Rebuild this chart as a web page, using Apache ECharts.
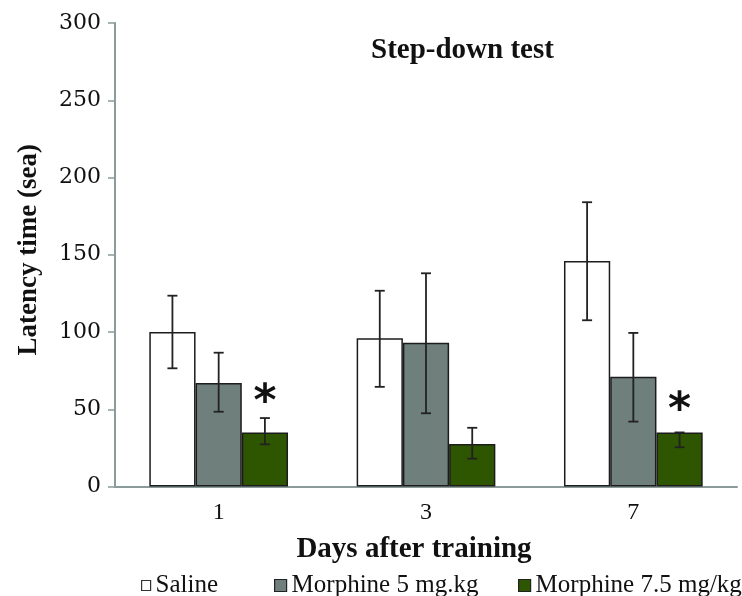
<!DOCTYPE html>
<html>
<head>
<meta charset="utf-8">
<script src="https://cdn.jsdelivr.net/npm/echarts@6/dist/echarts.min.js"></script>
<style>
  html, body { margin: 0; padding: 0; background: #fff; }
  #chart { width: 742px; height: 596px; }
</style>
</head>
<body>
<div id="chart"></div>
<script>
// ---- data ----
var categories = ['1', '3', '7'];
var seriesNames = ['Saline', 'Morphine 5 mg.kg', 'Morphine 7.5 mg/kg'];
var yTicks = [0, 50, 100, 150, 200, 250, 300];

var saline = [100, 96, 146];
var salineLow = [76.5, 64.5, 107.6];
var salineHigh = [123.5, 126.7, 184];

var morph5 = [67, 93, 71];
var morph5Low = [48.4, 47.4, 42];
var morph5High = [86.6, 138, 99.4];

var morph75 = [35, 27.5, 35];
var morph75Low = [27.3, 18, 25.4];
var morph75High = [44.3, 38, 35];

var significance = [58, null, 53]; // asterisk heights

// ---- styling ----
var colors = ['#ffffff', '#6f7f7c', '#2e5600'];
var BAR_RATIO = 0.223;
var edge = '#1c1c1c';

function errorSeries(idx, low, high) {
  return {
    type: 'custom',
    name: seriesNames[idx] + ' error',
    z: 10,
    silent: true,
    renderItem: function (params, api) {
      var cat = api.value(0);
      var lo = api.value(1), hi = api.value(2);
      var band = api.size([1, 0])[0];
      var bw = band * BAR_RATIO;
      var base = api.coord([cat, 0]);
      var x = base[0] + (idx - 1) * bw;
      var yHi = api.coord([cat, hi])[1];
      var yLo = api.coord([cat, lo])[1];
      var cap = 5;
      var st = { stroke: '#222', lineWidth: 1.8 };
      return {
        type: 'group',
        children: [
          { type: 'line', shape: { x1: x, y1: yHi, x2: x, y2: yLo }, style: st },
          { type: 'line', shape: { x1: x - cap, y1: yHi, x2: x + cap, y2: yHi }, style: st },
          { type: 'line', shape: { x1: x - cap, y1: yLo, x2: x + cap, y2: yLo }, style: st }
        ]
      };
    },
    encode: { x: 0, y: [1, 2] },
    data: categories.map(function (c, i) { return [i, low[i], high[i]]; })
  };
}

var sigData = [];
significance.forEach(function (v, i) { if (v != null) sigData.push([i, v]); });

var chart = echarts.init(document.getElementById('chart'), null, { renderer: 'canvas' });

var legendBase = {
  orient: 'horizontal',
  top: 573,
  padding: 0,
  itemHeight: 12,
  itemWidth: 12,
  icon: 'rect',
  textStyle: { fontFamily: 'Liberation Serif', fontSize: 25, color: '#111' },
  selectedMode: false
};

var SIG_FONT = 44;

chart.setOption({
  animation: false,
  backgroundColor: '#ffffff',
  title: {
    text: 'Step-down test',
    left: 371,
    top: 36,
    padding: 0,
    textStyle: { fontFamily: 'Liberation Serif', fontWeight: 'bold', fontSize: 29, color: '#111' }
  },
  legend: [
    Object.assign({}, legendBase, { left: 141, itemWidth: 9, itemHeight: 10, data: [{ name: seriesNames[0], itemStyle: { color: '#fff', borderColor: '#333', borderWidth: 1.2 } }] }),
    Object.assign({}, legendBase, { left: 274, data: [{ name: seriesNames[1], itemStyle: { color: colors[1], borderColor: '#222', borderWidth: 1.2 } }] }),
    Object.assign({}, legendBase, { left: 518, data: [{ name: seriesNames[2], itemStyle: { color: colors[2], borderColor: '#222', borderWidth: 1.2 } }] })
  ],
  grid: { left: 115, right: 5, top: 23, bottom: 109.5, containLabel: false },
  xAxis: {
    type: 'category',
    data: categories,
    axisLine: { lineStyle: { color: '#8b9b99', width: 2 } },
    axisTick: { show: false },
    axisLabel: { fontFamily: 'Liberation Serif', fontSize: 24, color: '#111', margin: 14 },
    name: 'Days after training',
    nameLocation: 'middle',
    nameGap: 49,
    nameTextStyle: { fontFamily: 'Liberation Serif', fontWeight: 'bold', fontSize: 29, color: '#111', padding: [0, 24, 0, 0] }
  },
  yAxis: {
    type: 'value',
    min: yTicks[0],
    max: yTicks[yTicks.length - 1],
    interval: yTicks[1] - yTicks[0],
    splitLine: { show: false },
    axisLine: { show: true, lineStyle: { color: '#8b9b99', width: 2 } },
    axisTick: { show: true, inside: false, length: 7, lineStyle: { color: '#8b9b99', width: 1.5 } },
    axisLabel: { fontFamily: 'DejaVu Serif', fontSize: 22, color: '#111', margin: 14 },
    name: 'Latency time (sea)',
    nameLocation: 'middle',
    nameRotate: 90,
    nameGap: 72,
    nameTextStyle: { fontFamily: 'Liberation Serif', fontWeight: 'bold', fontSize: 27, color: '#111', padding: [0, 0, 0, 10] }
  },
  series: [
    { type: 'bar', name: seriesNames[0], data: saline, barWidth: (BAR_RATIO * 100) + '%', barGap: '0%',
      itemStyle: { color: colors[0], borderColor: edge, borderWidth: 1.5 } },
    { type: 'bar', name: seriesNames[1], data: morph5, barWidth: (BAR_RATIO * 100) + '%', barGap: '0%',
      itemStyle: { color: colors[1], borderColor: edge, borderWidth: 1.5 } },
    { type: 'bar', name: seriesNames[2], data: morph75, barWidth: (BAR_RATIO * 100) + '%', barGap: '0%',
      itemStyle: { color: colors[2], borderColor: edge, borderWidth: 1.5 } },
    errorSeries(0, salineLow, salineHigh),
    errorSeries(1, morph5Low, morph5High),
    errorSeries(2, morph75Low, morph75High),
    {
      type: 'custom',
      name: 'significance',
      z: 11,
      silent: true,
      renderItem: function (params, api) {
        var cat = api.value(0);
        var band = api.size([1, 0])[0];
        var bw = band * BAR_RATIO;
        var p = api.coord([cat, api.value(1)]);
        return {
          type: 'text',
          x: p[0] + bw,
          y: p[1] - SIG_FONT * 0.34,
          style: {
            text: '*',
            fontFamily: 'DejaVu Sans',
            fontWeight: 'bold',
            fontSize: SIG_FONT,
            fill: '#111',
            align: 'center',
            verticalAlign: 'top'
          }
        };
      },
      encode: { x: 0, y: 1 },
      data: sigData
    }
  ]
});
</script>
</body>
</html>
